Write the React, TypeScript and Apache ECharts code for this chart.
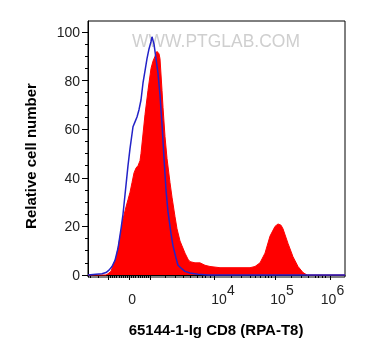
import React, { useEffect, useRef } from "react";
import * as echarts from "echarts";

// Display channel (0..257 across the plot, biexponential display scale)
const blueChannel = [0, 8, 14, 18, 21, 24, 27, 30, 33, 35, 38, 40, 42, 45, 47, 49, 51, 53, 55, 57, 59, 61, 63, 64, 66, 68, 70, 72, 74, 76, 78, 80, 83, 85, 88, 90, 94, 97, 102, 110, 120, 257];
const blueCount = [0, 0.3, 0.5, 1, 2, 3.5, 6, 11, 19, 25, 37, 45, 52, 61, 63, 65, 68, 72, 79, 84, 89, 93, 96, 98, 95, 89, 83, 74, 62, 48, 35, 26, 17, 12, 7, 4, 2.5, 1.5, 0.8, 0.3, 0, 0];

const redChannel = [0, 18, 20, 23, 25, 28, 30, 33, 35, 38, 40, 42, 44, 46, 48, 50, 52, 53, 55, 57, 60, 63, 65, 67, 69, 71, 72, 74, 75, 77, 79, 82, 84, 87, 89, 92, 94, 97, 100, 102, 107, 112, 117, 122, 132, 142, 152, 162, 167, 172, 177, 182, 187, 190, 193, 195, 200, 205, 210, 215, 219, 257];
const redCount = [0, 0, 0.5, 1.5, 4, 7, 11, 18, 23, 28, 31, 34, 38, 42, 44, 45, 47, 50, 58, 66, 76, 85, 88, 90, 92, 91, 89, 76, 69, 57, 48, 38, 32, 24, 19, 14, 12, 9, 6.5, 5.5, 5, 5, 4, 3.5, 3, 3, 3, 3, 3.5, 5, 9, 16, 20, 21, 20.5, 19, 13, 7.5, 3.5, 1, 0, 0];

// Axis ticks (channel positions of the biexponential scale)
const xMajorTicks = [20.3, 41.3, 62.7, 126.3, 187, 242];
const xMinorTicks = [2.7, 10.3, 22.4, 24.5, 26.6, 28.7, 30.8, 32.9, 35.0, 37.1, 39.2, 43.4, 45.6, 47.7, 49.9, 52.0, 54.1, 56.3, 58.4, 60.6, 77, 87, 95, 102, 109, 114, 117.7, 122, 143.7, 153.7, 162, 167, 172, 177, 180, 183.7, 203.7, 213.7, 220.3, 227, 230.3, 234.3, 237.7];
const xLabelTicks = [41.3, 126.3, 187, 242];
const xLabelBase = ["0", "10", "10", "10"];
const xLabelExp = ["", "4", "5", "6"];

const yMajorTicks = [0, 20, 40, 60, 80, 100];
const yMinorTicks = [5, 10, 15, 25, 30, 35, 45, 50, 55, 65, 70, 75, 85, 90, 95];

const X_MIN = 0;
const X_MAX = 257;
const Y_MIN = -0.82;
const Y_MAX = 104.5;

const FONT = "Liberation Sans, Arial, sans-serif";

export default function App() {
  const ref = useRef<HTMLDivElement>(null);
  useEffect(() => {
    if (!ref.current) return;
    const chart = echarts.init(ref.current, null, { renderer: "svg" });
    const labelShift = [4.7, 8.7, 7, 2.5];
    const xLabelPos = xLabelTicks.map((t, i) => t + labelShift[i]);
    const baseX = {
      type: "value",
      min: X_MIN,
      max: X_MAX,
      position: "bottom",
      gridIndex: 0,
      splitLine: { show: false },
    };
    const baseY = {
      type: "value",
      min: Y_MIN,
      max: Y_MAX,
      position: "left",
      gridIndex: 0,
      splitLine: { show: false },
    };
    chart.setOption({
      animation: false,
      grid: {
        left: 88,
        top: 21,
        right: 20,
        bottom: 83,
        show: true,
        borderColor: "#000",
        borderWidth: 1,
        backgroundColor: "transparent",
      },
      xAxis: [
        {
          ...baseX,
          axisLine: { show: true, lineStyle: { color: "#000", width: 1 } },
          axisTick: { show: true, customValues: xMajorTicks, length: 5, lineStyle: { color: "#000", width: 1 } },
          axisLabel: { show: false },
        },
        {
          ...baseX,
          axisLine: { show: false },
          axisTick: { show: true, customValues: xMinorTicks, length: 3, lineStyle: { color: "#000", width: 1 } },
          axisLabel: { show: false },
        },
        {
          ...baseX,
          axisLine: { show: false },
          axisTick: { show: false },
          axisLabel: {
            show: true,
            customValues: xLabelPos,
            margin: 6,
            formatter: (v: number) => {
              const i = xLabelPos.findIndex((p) => Math.abs(p - v) < 0.01);
              if (i < 0) return "";
              return `{b|${xLabelBase[i]}}{s|${xLabelExp[i] || " "}}`;
            },
            rich: {
              b: { fontSize: 14, color: "#222", fontFamily: FONT, verticalAlign: "bottom" },
              s: { fontSize: 14, color: "#222", fontFamily: FONT, padding: [0, 0, 9, 0], verticalAlign: "bottom" },
            },
          },
        },
      ],
      yAxis: [
        {
          ...baseY,
          axisLine: { show: true, lineStyle: { color: "#000", width: 1 } },
          axisTick: { show: true, customValues: yMajorTicks, length: 6, lineStyle: { color: "#000", width: 1 } },
          axisLabel: {
            show: true,
            customValues: yMajorTicks,
            margin: 8,
            fontSize: 14,
            color: "#222",
            fontFamily: FONT,
          },
        },
        {
          ...baseY,
          axisLine: { show: false },
          axisTick: { show: true, customValues: yMinorTicks, length: 3, lineStyle: { color: "#000", width: 1 } },
          axisLabel: { show: false },
        },
      ],
      graphic: [
        {
          type: "text",
          x: 216,
          y: 40,
          z: -10,
          scaleX: 0.92,
          style: {
            text: "WWW.PTGLAB.COM",
            fontSize: 19,
            fontFamily: FONT,
            fill: "#cfcfcf",
            align: "center",
            verticalAlign: "middle",
          },
        },
        {
          type: "text",
          x: 30,
          y: 156,
          rotation: Math.PI / 2,
          style: {
            text: "Relative cell number",
            fontSize: 15,
            fontWeight: "bold",
            fontFamily: FONT,
            fill: "#000",
            align: "center",
            verticalAlign: "middle",
          },
        },
        {
          type: "text",
          x: 216,
          y: 329,
          style: {
            text: "65144-1-Ig CD8 (RPA-T8)",
            fontSize: 15,
            fontWeight: "bold",
            fontFamily: FONT,
            fill: "#000",
            align: "center",
            verticalAlign: "middle",
          },
        },
      ],
      series: [
        {
          type: "line",
          xAxisIndex: 0,
          yAxisIndex: 0,
          data: redChannel.map((c, i) => [c, redCount[i]]),
          showSymbol: false,
          symbol: "none",
          lineStyle: { color: "#ff0000", width: 1 },
          areaStyle: { color: "#ff0000", opacity: 1 },
          z: 2,
        },
        {
          type: "line",
          xAxisIndex: 0,
          yAxisIndex: 0,
          data: blueChannel.map((c, i) => [c, blueCount[i]]),
          showSymbol: false,
          symbol: "none",
          lineStyle: { color: "#2323c8", width: 1.5 },
          z: 3,
        },
      ],
    });
    return () => chart.dispose();
  }, []);
  return (
    <div
      ref={ref}
      style={{ position: "fixed", left: 0, top: 0, width: 365, height: 360 }}
    />
  );
}
